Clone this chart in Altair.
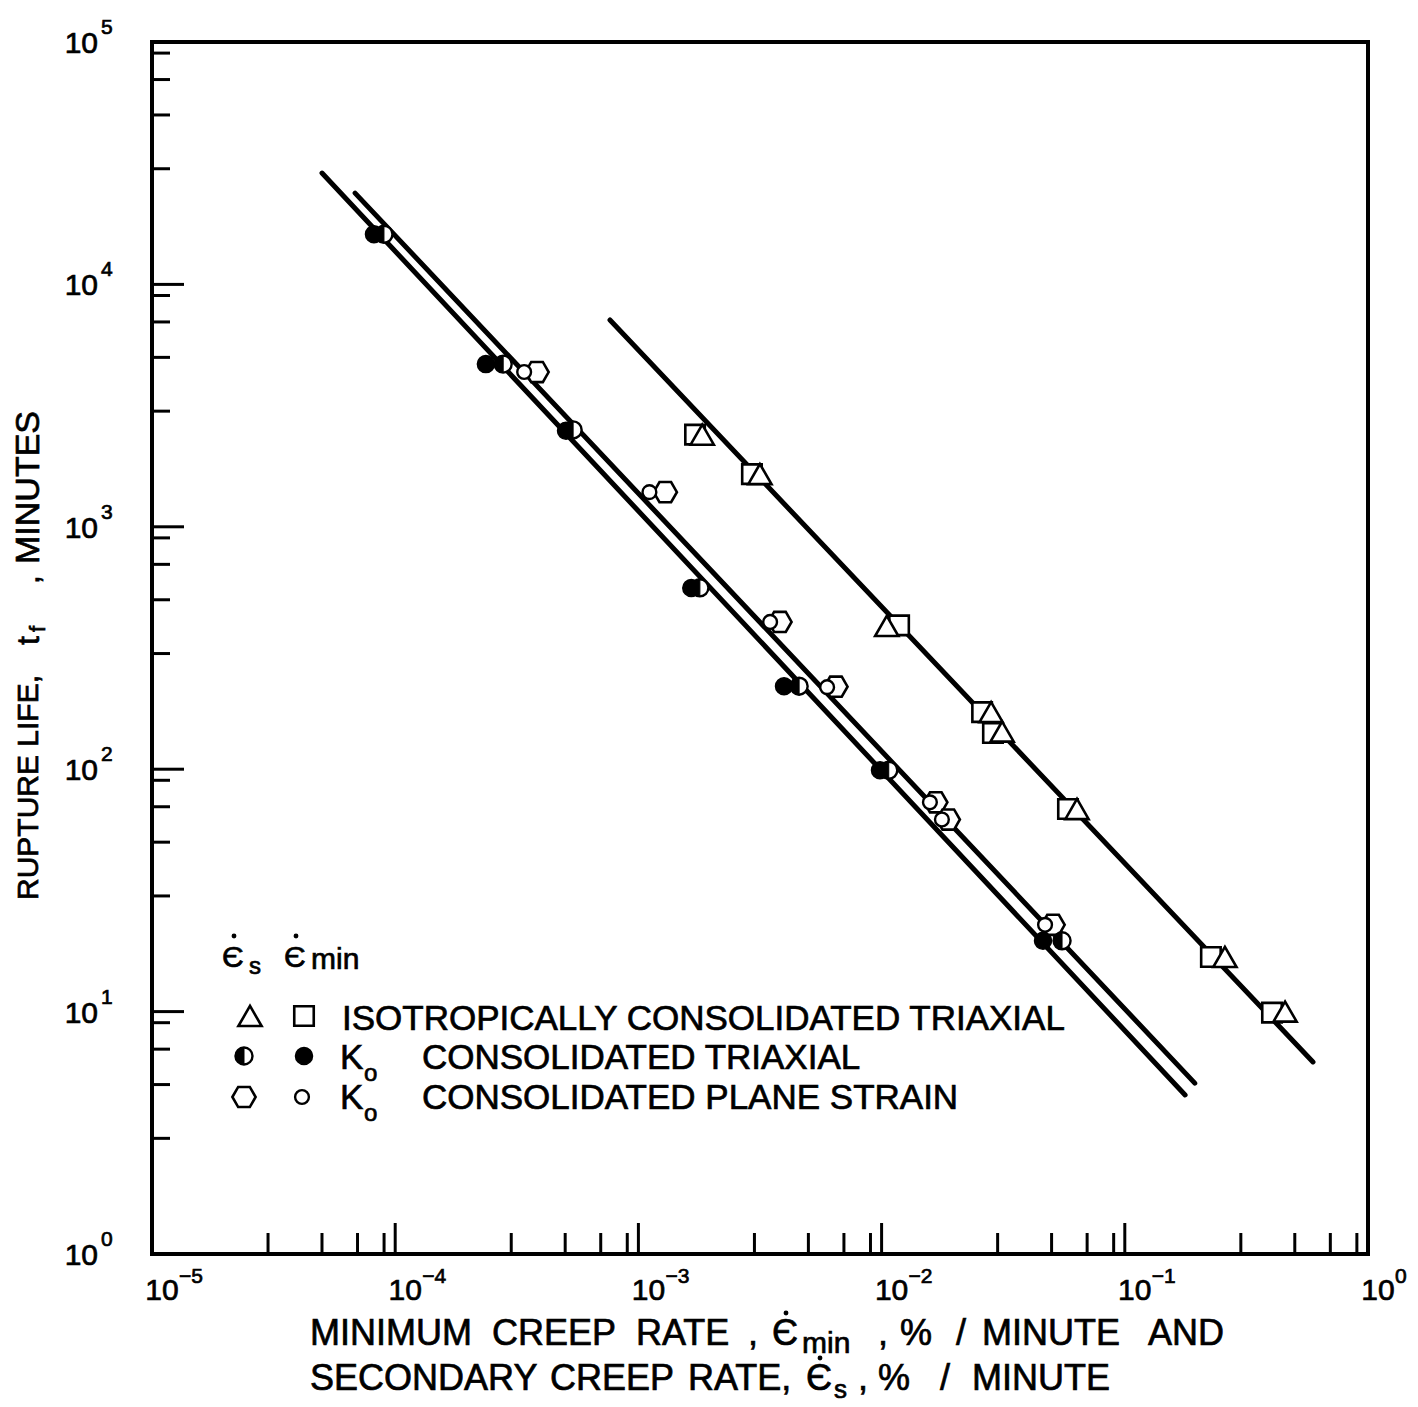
import altair as alt
import pandas as pd

W, H = 1216, 1212          # plot area
OX, OY = 152, 42           # page position of the plot origin (layout helper)

# ---------------- data ----------------
# Isotropically consolidated triaxial
iso_tri_x = [1.83e-3, 3.16e-3, 1.05e-2, 2.82e-2, 3.13e-2, 6.36e-2, 0.258, 0.456]   # secondary rate (triangle)
iso_tri_y = [2400, 1650, 390, 172, 143, 68.5, 16.8, 10.0]
iso_sq_x = [1.71e-3, 2.93e-3, 1.18e-2, 2.59e-2, 2.87e-2, 5.84e-2, 0.226, 0.403]    # minimum rate (square)
iso_sq_y = [2400, 1650, 392, 172, 141, 68.5, 16.8, 9.9]
# K0 consolidated triaxial
k0t_half_x = [8.99e-5, 2.78e-4, 5.39e-4, 1.79e-3, 4.58e-3, 1.07e-2, 5.52e-2]     # secondary (half filled)
k0t_half_y = [16100, 4690, 2510, 560, 220, 99, 19.6]
k0t_full_x = [8.18e-5, 2.36e-4, 5.04e-4, 1.65e-3, 3.97e-3, 9.85e-3, 4.61e-2]     # minimum (filled)
k0t_full_y = [16100, 4690, 2490, 559, 220, 99, 19.6]
# K0 consolidated plane strain
k0p_hex_x = [3.83e-4, 1.29e-3, 3.82e-3, 6.49e-3, 1.67e-2, 1.88e-2, 5.07e-2]      # secondary (large open)
k0p_hex_y = [4350, 1390, 405, 219, 73, 62, 22.8]
k0p_circ_x = [3.39e-4, 1.11e-3, 3.48e-3, 5.97e-3, 1.58e-2, 1.77e-2, 4.70e-2]     # minimum (small open)
k0p_circ_y = [4350, 1390, 405, 218, 73, 62, 22.8]
# fitted lines (end points)
line_name = ["K0 triaxial", "K0 plane strain", "isotropic"]
line_x0 = [5.0e-5, 6.84e-5, 7.64e-4]
line_y0 = [2.88e4, 2.38e4, 7.13e3]
line_x1 = [0.177, 0.194, 0.594]
line_y1 = [4.53, 5.07, 6.20]

# axes
x_decades = [1e-5, 1e-4, 1e-3, 1e-2, 1e-1, 1e0]
x_exp = ["\u22125", "\u22124", "\u22123", "\u22122", "\u22121", "0"]
y_decades = [1e0, 1e1, 1e2, 1e3, 1e4, 1e5]
y_exp = ["0", "1", "2", "3", "4", "5"]
x_major = [1e-4, 1e-3, 1e-2, 1e-1]
x_minor = [3e-5, 5e-5, 7e-5, 9e-5, 3e-4, 5e-4, 7e-4, 9e-4, 3e-3, 5e-3, 7e-3, 9e-3,
           3e-2, 5e-2, 7e-2, 9e-2, 3e-1, 5e-1, 7e-1, 9e-1]
y_major = [1e1, 1e2, 1e3, 1e4]
y_minor = [3, 5, 7, 9, 30, 50, 70, 90, 300, 500, 700, 900, 3000, 5000, 7000, 9000,
           30000, 50000, 70000, 90000]

# ---------------- helpers ----------------
xs = alt.Scale(type="log", domain=[1e-5, 1], nice=False)
ys = alt.Scale(type="log", domain=[1, 1e5], nice=False)


def X(f):
    return alt.X(f"{f}:Q", scale=xs, axis=None)


def Y(f):
    return alt.Y(f"{f}:Q", scale=ys, axis=None)


ONE = pd.DataFrame({"a": [0]})
FONT = "Liberation Sans"
TSTROKE = dict(stroke="black", strokeWidth=0.7)

HEX = "M-1,0L-0.5,-0.866L0.5,-0.866L1,0L0.5,0.866L-0.5,0.866Z"
HALF = "M0,-1A1,1,0,0,0,0,1Z"

STY = {
    "sq": dict(shape="square", size=380, fill="white", stroke="black", strokeWidth=2.6),
    "tri": dict(shape="triangle-up", size=540, fill="white", stroke="black", strokeWidth=2.6),
    "hex": dict(shape=HEX, size=540, fill="white", stroke="black", strokeWidth=2.6),
    "circ": dict(shape="circle", size=190, fill="white", stroke="black", strokeWidth=2.4),
    "full": dict(shape="circle", size=290, fill="black", stroke="black", strokeWidth=1.5),
    "halfbg": dict(shape="circle", size=290, fill="white", stroke="black", strokeWidth=2.4),
    "halffg": dict(shape=HALF, size=290, fill="black", stroke="black", strokeWidth=1.0),
}


def pts(kind, xv, yv):
    df = pd.DataFrame({"x": xv, "y": yv})
    return alt.Chart(df).mark_point(filled=True, opacity=1, **STY[kind]).encode(x=X("x"), y=Y("y"))


def sym(kind, px, py):
    return alt.Chart(ONE).mark_point(filled=True, opacity=1, **STY[kind]).encode(
        x=alt.value(px - OX), y=alt.value(py - OY))


def txt(s, px, py, size=36, angle=0, baseline="alphabetic", font=FONT):
    return alt.Chart(ONE).mark_text(text=s, align="left", baseline=baseline, fontSize=size,
                                    font=font, angle=angle, color="black", **TSTROKE).encode(
        x=alt.value(px - OX), y=alt.value(py - OY))


def dot(px, py):
    return alt.Chart(ONE).mark_point(filled=True, opacity=1, shape="circle", size=24,
                                     fill="black", stroke="black", strokeWidth=0).encode(
        x=alt.value(px - OX), y=alt.value(py - OY))


layers = []

# fitted lines
lines_df = pd.DataFrame({"name": line_name, "x0": line_x0, "y0": line_y0,
                         "x1": line_x1, "y1": line_y1})
layers.append(alt.Chart(lines_df).mark_rule(strokeWidth=5, color="black", strokeCap="round").encode(
    x=X("x0"), y=Y("y0"), x2="x1:Q", y2="y1:Q"))

# data points
layers += [
    pts("sq", iso_sq_x, iso_sq_y),
    pts("tri", iso_tri_x, iso_tri_y),
    pts("hex", k0p_hex_x, k0p_hex_y),
    pts("circ", k0p_circ_x, k0p_circ_y),
    pts("full", k0t_full_x, k0t_full_y),
    pts("halfbg", k0t_half_x, k0t_half_y),
    pts("halffg", k0t_half_x, k0t_half_y),
]

# ticks (inside the frame)
layers.append(alt.Chart(pd.DataFrame({"v": x_major})).mark_rule(strokeWidth=3, color="black").encode(
    x=X("v"), y=alt.value(H), y2=alt.value(H - 31)))
layers.append(alt.Chart(pd.DataFrame({"v": x_minor})).mark_rule(strokeWidth=3, color="black").encode(
    x=X("v"), y=alt.value(H), y2=alt.value(H - 21)))
layers.append(alt.Chart(pd.DataFrame({"v": y_major})).mark_rule(strokeWidth=3, color="black").encode(
    y=Y("v"), x=alt.value(0), x2=alt.value(32)))
layers.append(alt.Chart(pd.DataFrame({"v": y_minor})).mark_rule(strokeWidth=3, color="black").encode(
    y=Y("v"), x=alt.value(0), x2=alt.value(18)))

# tick labels
xl = pd.DataFrame({"v": x_decades, "e": x_exp})
layers.append(alt.Chart(xl).mark_text(text="10", align="center", baseline="middle", fontSize=30,
                                      font=FONT, dx=10, color="black", **TSTROKE).encode(
    x=X("v"), y=alt.value(H + 37)))
layers.append(alt.Chart(xl).mark_text(align="left", baseline="middle", fontSize=21,
                                      font=FONT, dx=27, color="black", **TSTROKE).encode(
    x=X("v"), y=alt.value(H + 23), text="e:N"))
yl = pd.DataFrame({"v": y_decades, "e": y_exp})
layers.append(alt.Chart(yl).mark_text(text="10", align="right", baseline="middle", fontSize=30,
                                      font=FONT, dy=2, color="black", **TSTROKE).encode(
    y=Y("v"), x=alt.value(-54)))
layers.append(alt.Chart(yl).mark_text(align="left", baseline="middle", fontSize=21,
                                      font=FONT, dy=-14, color="black", **TSTROKE).encode(
    y=Y("v"), x=alt.value(-51), text="e:N"))

# y axis title (rotated)
layers += [
    txt("RUPTURE LIFE,", 29, 900, 30, 270, "middle"),
    txt("t", 29, 645, 32, 270, "middle"),
    txt("f", 38, 632, 22, 270, "middle"),
    txt(",", 29, 584, 32, 270, "middle"),
    txt("MINUTES", 29, 564, 34, 270, "middle"),
]

# x axis title, line 1
B1, B2 = 1345, 1390
layers += [
    txt("MINIMUM", 310, B1), txt("CREEP", 492, B1), txt("RATE", 636, B1),
    txt(",", 748, B1), txt("\u0404", 772, B1), dot(786, 1313),
    txt("min", 802, B1 + 8, 30), txt(",", 878, B1), txt("%", 900, B1),
    txt("/", 956, B1), txt("MINUTE", 982, B1), txt("AND", 1148, B1),
]
# x axis title, line 2
layers += [
    txt("SECONDARY", 310, B2), txt("CREEP", 550, B2), txt("RATE,", 688, B2),
    txt("\u0404", 806, B2), dot(820, 1358), txt("s", 834, B2 + 8, 26),
    txt(",", 858, B2), txt("%", 878, B2), txt("/", 940, B2),
    txt("MINUTE", 972, B2),
]

# legend
layers += [
    txt("\u0404", 222, 967, 30), dot(234, 936), txt("s", 249, 974, 24),
    txt("\u0404", 284, 967, 30), dot(296, 936), txt("min", 311, 969, 30),
    sym("tri", 250, 1016), sym("sq", 304, 1016),
    txt("ISOTROPICALLY CONSOLIDATED TRIAXIAL", 342, 1030, 35),
    sym("halfbg", 244, 1056), sym("halffg", 244, 1056), sym("full", 304, 1056),
    txt("K", 340, 1069, 35), txt("o", 364, 1081, 24),
    txt("CONSOLIDATED TRIAXIAL", 422, 1069, 35),
    sym("hex", 244, 1097), sym("circ", 302, 1097),
    txt("K", 340, 1109, 35), txt("o", 364, 1121, 24),
    txt("CONSOLIDATED PLANE STRAIN", 422, 1109, 35),
]

chart = alt.layer(*layers).properties(
    width=W, height=H,
    autosize=alt.AutoSizeParams(type="none"),
    padding={"left": OX - 8, "top": OY - 8, "right": 42, "bottom": 150},
).configure_view(stroke="black", strokeWidth=4)

chart.save("out.html", embed_options={"renderer": "svg", "actions": False})
